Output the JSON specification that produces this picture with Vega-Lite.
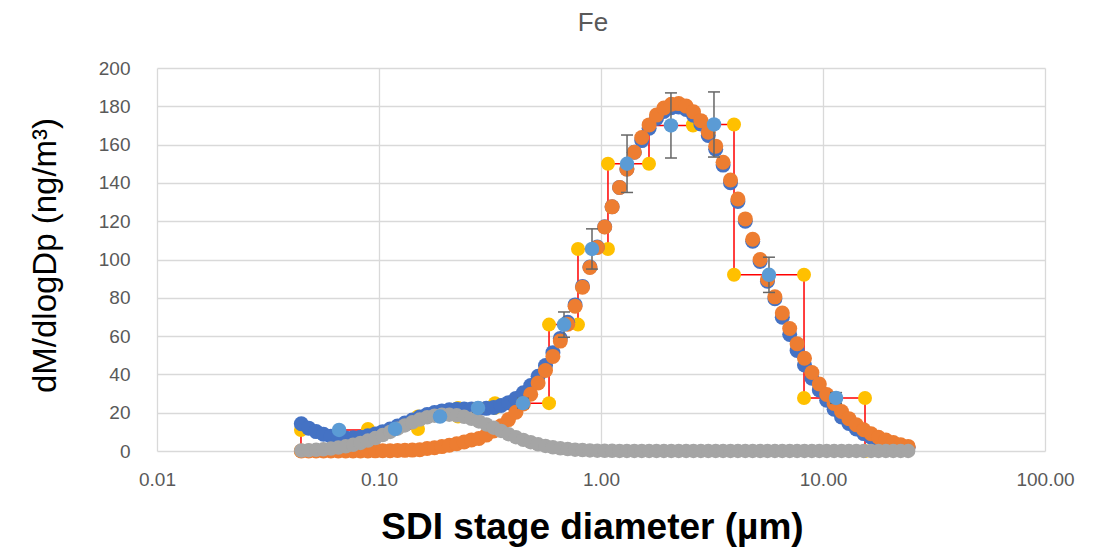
{
  "$schema": "https://vega.github.io/schema/vega-lite/v6.json",
  "width": 888,
  "height": 383,
  "autosize": {"type": "none"},
  "padding": {"left": 157, "top": 68, "right": 54, "bottom": 98},
  "background": "white",
  "title": {"text": "Fe", "font": "Liberation Sans", "fontSize": 26, "fontWeight": "normal", "color": "#595959", "baseline": "bottom", "anchor": "middle", "frame": "group", "offset": -3, "dx": -8},
  "config": {
    "view": {"stroke": null},
    "axis": {"ticks": false, "tickSize": 0, "domain": false, "gridColor": "#D9D9D9", "gridWidth": 1.3, "labelFont": "Liberation Sans", "labelFontSize": 19, "labelColor": "#595959", "titleColor": "#000000", "titleFont": "Liberation Sans", "labelFlush": false, "labelOverlap": false}
  },
  "datasets": {
    "fit": [
      {"dp": 0.04467, "tot": 14.26, "crs": 0, "fin": 0.26},
      {"dp": 0.04823, "tot": 11.94, "crs": 0, "fin": 0.40},
      {"dp": 0.05208, "tot": 10.12, "crs": 0, "fin": 0.61},
      {"dp": 0.05623, "tot": 8.72, "crs": 0, "fin": 0.88},
      {"dp": 0.06072, "tot": 7.72, "crs": 0, "fin": 1.26},
      {"dp": 0.06556, "tot": 7.10, "crs": 0, "fin": 1.77},
      {"dp": 0.07079, "tot": 6.82, "crs": 0.01, "fin": 2.42},
      {"dp": 0.07644, "tot": 6.87, "crs": 0.02, "fin": 3.23},
      {"dp": 0.08254, "tot": 7.24, "crs": 0.03, "fin": 4.23},
      {"dp": 0.08913, "tot": 7.93, "crs": 0.05, "fin": 5.42},
      {"dp": 0.09624, "tot": 8.89, "crs": 0.08, "fin": 6.78},
      {"dp": 0.1039, "tot": 10.09, "crs": 0.12, "fin": 8.30},
      {"dp": 0.1122, "tot": 11.49, "crs": 0.17, "fin": 9.94},
      {"dp": 0.1212, "tot": 13.02, "crs": 0.24, "fin": 11.65},
      {"dp": 0.1308, "tot": 14.63, "crs": 0.34, "fin": 13.35},
      {"dp": 0.1413, "tot": 16.20, "crs": 0.47, "fin": 14.96},
      {"dp": 0.1526, "tot": 17.70, "crs": 0.66, "fin": 16.40},
      {"dp": 0.1647, "tot": 19.00, "crs": 1.3, "fin": 17.58},
      {"dp": 0.1778, "tot": 20.10, "crs": 1.7, "fin": 18.44},
      {"dp": 0.1920, "tot": 20.93, "crs": 2.3, "fin": 18.91},
      {"dp": 0.2073, "tot": 21.49, "crs": 3.0, "fin": 18.97},
      {"dp": 0.2239, "tot": 21.81, "crs": 3.8, "fin": 18.62},
      {"dp": 0.2418, "tot": 21.95, "crs": 4.7, "fin": 17.87},
      {"dp": 0.2610, "tot": 21.99, "crs": 5.8, "fin": 16.78},
      {"dp": 0.2818, "tot": 22.05, "crs": 6.51, "fin": 15.41},
      {"dp": 0.3043, "tot": 22.26, "crs": 8.31, "fin": 13.84},
      {"dp": 0.3286, "tot": 22.75, "crs": 10.5, "fin": 12.16},
      {"dp": 0.3548, "tot": 23.73, "crs": 13.2, "fin": 10.45},
      {"dp": 0.3831, "tot": 25.25, "crs": 16.4, "fin": 8.79},
      {"dp": 0.4137, "tot": 27.47, "crs": 20.2, "fin": 7.22},
      {"dp": 0.4467, "tot": 30.45, "crs": 24.6, "fin": 5.81},
      {"dp": 0.4823, "tot": 34.17, "crs": 29.6, "fin": 4.57},
      {"dp": 0.5208, "tot": 39.01, "crs": 35.5, "fin": 3.51},
      {"dp": 0.5623, "tot": 44.64, "crs": 42.0, "fin": 2.64},
      {"dp": 0.6072, "tot": 51.35, "crs": 49.4, "fin": 1.95},
      {"dp": 0.6556, "tot": 58.8, "crs": 57.4, "fin": 1.40},
      {"dp": 0.7079, "tot": 67.19, "crs": 66.2, "fin": 0.99},
      {"dp": 0.7644, "tot": 76.28, "crs": 75.6, "fin": 0.68},
      {"dp": 0.8254, "tot": 85.96, "crs": 85.5, "fin": 0.46},
      {"dp": 0.8913, "tot": 96.1, "crs": 95.8, "fin": 0.30},
      {"dp": 0.9624, "tot": 106.49, "crs": 106.3, "fin": 0.19},
      {"dp": 1.039, "tot": 117.12, "crs": 117.0, "fin": 0.12},
      {"dp": 1.122, "tot": 127.58, "crs": 127.5, "fin": 0.08},
      {"dp": 1.212, "tot": 137.65, "crs": 137.6, "fin": 0.05},
      {"dp": 1.308, "tot": 147.23, "crs": 147.2, "fin": 0.03},
      {"dp": 1.413, "tot": 156.02, "crs": 156.0, "fin": 0.02},
      {"dp": 1.526, "tot": 162.1, "crs": 163.7, "fin": 0.01},
      {"dp": 1.647, "tot": 168.6, "crs": 170.3, "fin": 0},
      {"dp": 1.778, "tot": 173.6, "crs": 175.4, "fin": 0},
      {"dp": 1.920, "tot": 177.3, "crs": 179.1, "fin": 0},
      {"dp": 2.073, "tot": 179.3, "crs": 181.1, "fin": 0},
      {"dp": 2.239, "tot": 179.6, "crs": 181.4, "fin": 0},
      {"dp": 2.418, "tot": 178.3, "crs": 180.1, "fin": 0},
      {"dp": 2.610, "tot": 175.3, "crs": 177.1, "fin": 0},
      {"dp": 2.818, "tot": 170.8, "crs": 172.5, "fin": 0},
      {"dp": 3.043, "tot": 164.8, "crs": 166.5, "fin": 0},
      {"dp": 3.286, "tot": 157.6, "crs": 159.2, "fin": 0},
      {"dp": 3.548, "tot": 149.3, "crs": 150.8, "fin": 0},
      {"dp": 3.831, "tot": 140.1, "crs": 141.5, "fin": 0},
      {"dp": 4.137, "tot": 130.3, "crs": 131.6, "fin": 0},
      {"dp": 4.467, "tot": 120.0, "crs": 121.2, "fin": 0},
      {"dp": 4.823, "tot": 109.5, "crs": 110.6, "fin": 0},
      {"dp": 5.208, "tot": 99.0, "crs": 100.0, "fin": 0},
      {"dp": 5.623, "tot": 88.7, "crs": 89.6, "fin": 0},
      {"dp": 6.072, "tot": 79.5, "crs": 80.5, "fin": 0},
      {"dp": 6.556, "tot": 69.9, "crs": 72, "fin": 0},
      {"dp": 7.079, "tot": 60.9, "crs": 64, "fin": 0},
      {"dp": 7.644, "tot": 52.5, "crs": 56, "fin": 0},
      {"dp": 8.254, "tot": 44.9, "crs": 48.4, "fin": 0},
      {"dp": 8.913, "tot": 38.0, "crs": 41, "fin": 0},
      {"dp": 9.624, "tot": 31.9, "crs": 35, "fin": 0},
      {"dp": 10.39, "tot": 26.5, "crs": 29.5, "fin": 0},
      {"dp": 11.22, "tot": 21.8, "crs": 24.8, "fin": 0},
      {"dp": 12.12, "tot": 17.8, "crs": 20.6, "fin": 0},
      {"dp": 13.08, "tot": 14.4, "crs": 16.9, "fin": 0},
      {"dp": 14.13, "tot": 11.5, "crs": 13.7, "fin": 0},
      {"dp": 15.26, "tot": 9.1, "crs": 11.1, "fin": 0},
      {"dp": 16.47, "tot": 7.2, "crs": 9.0, "fin": 0},
      {"dp": 17.78, "tot": 5.6, "crs": 7.2, "fin": 0},
      {"dp": 19.20, "tot": 4.3, "crs": 5.7, "fin": 0},
      {"dp": 20.73, "tot": 3.3, "crs": 4.4, "fin": 0},
      {"dp": 22.39, "tot": 2.5, "crs": 3.3, "fin": 0},
      {"dp": 24.18, "tot": 1.9, "crs": 2.4, "fin": 0}
    ],
    "steps": [
      {"o": 0, "dp": 0.04452, "v": 0},
      {"o": 1, "dp": 0.04452, "v": 11},
      {"o": 2, "dp": 0.08923, "v": 11},
      {"o": 3, "dp": 0.08923, "v": 11.5},
      {"o": 4, "dp": 0.1499, "v": 11.5},
      {"o": 5, "dp": 0.1499, "v": 18},
      {"o": 6, "dp": 0.2270, "v": 18},
      {"o": 7, "dp": 0.2270, "v": 22.5},
      {"o": 8, "dp": 0.3331, "v": 22.5},
      {"o": 9, "dp": 0.3331, "v": 25},
      {"o": 10, "dp": 0.5833, "v": 25},
      {"o": 11, "dp": 0.5833, "v": 66},
      {"o": 12, "dp": 0.7877, "v": 66},
      {"o": 13, "dp": 0.7877, "v": 105.5},
      {"o": 14, "dp": 1.075, "v": 105.5},
      {"o": 15, "dp": 1.075, "v": 150},
      {"o": 16, "dp": 1.645, "v": 150},
      {"o": 17, "dp": 1.645, "v": 170},
      {"o": 18, "dp": 2.597, "v": 170},
      {"o": 19, "dp": 2.597, "v": 170.5},
      {"o": 20, "dp": 3.973, "v": 170.5},
      {"o": 21, "dp": 3.973, "v": 92},
      {"o": 22, "dp": 8.213, "v": 92},
      {"o": 23, "dp": 8.213, "v": 27.7},
      {"o": 24, "dp": 15.46, "v": 27.7},
      {"o": 25, "dp": 15.46, "v": 0}
    ],
    "stages": [
      {"dp": 0.0661, "v": 11, "lo": 9.9, "hi": 12.1},
      {"dp": 0.1181, "v": 11.5, "lo": 10.35, "hi": 12.65},
      {"dp": 0.1883, "v": 18, "lo": 16.2, "hi": 19.8},
      {"dp": 0.2792, "v": 22.5, "lo": 20.25, "hi": 24.75},
      {"dp": 0.4453, "v": 25, "lo": 22.5, "hi": 27.5},
      {"dp": 0.6814, "v": 66, "lo": 59.4, "hi": 72.6},
      {"dp": 0.9109, "v": 105.5, "lo": 95, "hi": 116},
      {"dp": 1.310, "v": 150, "lo": 135, "hi": 165},
      {"dp": 2.066, "v": 170, "lo": 153, "hi": 187},
      {"dp": 3.228, "v": 170.5, "lo": 153.5, "hi": 187.5},
      {"dp": 5.71, "v": 92, "lo": 82.8, "hi": 101.2},
      {"dp": 11.45, "v": 27.7, "lo": 24.9, "hi": 30.5}
    ]
  },
  "encoding": {
    "x": {"field": "dp", "type": "quantitative", "scale": {"type": "log", "domain": [0.01, 100]},
      "title": "SDI stage diameter (µm)",
      "axis": {"values": [0.01, 0.1, 1, 10, 100], "format": ".2f", "labelPadding": 19, "titleFontSize": 37, "titleFontWeight": "bold", "titleX": 435, "titleY": 76, "titleBaseline": "middle", "titleAlign": "center"}},
    "y": {"field": "v", "type": "quantitative", "scale": {"domain": [0, 200]},
      "title": "dM/dlogDp (ng/m³)",
      "axis": {"values": [0, 20, 40, 60, 80, 100, 120, 140, 160, 180, 200], "format": "d", "labelPadding": 27, "titleFontSize": 33, "titleFontWeight": "normal", "titleX": -112, "titleY": 187, "titleAngle": -90, "titleBaseline": "middle", "titleAlign": "center"}}
  },
  "layer": [
    {"data": {"name": "steps"}, "mark": {"type": "line", "color": "#FF0000", "strokeWidth": 1.5}, "encoding": {"order": {"field": "o", "type": "quantitative"}}},
    {"data": {"name": "steps"}, "mark": {"type": "point", "shape": "circle", "filled": true, "opacity": 1, "size": 196, "color": "#FFC000", "strokeWidth": 0}},
    {"data": {"name": "fit"}, "transform": [{"fold": ["tot"], "as": ["s", "v"]}], "mark": {"type": "point", "shape": "circle", "filled": true, "opacity": 1, "size": 225, "color": "#4472C4", "strokeWidth": 0}},
    {"data": {"name": "fit"}, "transform": [{"fold": ["crs"], "as": ["s", "v"]}], "mark": {"type": "point", "shape": "circle", "filled": true, "opacity": 1, "size": 225, "color": "#ED7D31", "strokeWidth": 0}},
    {"data": {"name": "fit"}, "transform": [{"fold": ["fin"], "as": ["s", "v"]}], "mark": {"type": "point", "shape": "circle", "filled": true, "opacity": 1, "size": 210, "color": "#A5A5A5", "strokeWidth": 0}},
    {"data": {"name": "stages"}, "mark": {"type": "rule", "color": "#666666", "strokeWidth": 1.5},
      "encoding": {"y": {"field": "lo", "type": "quantitative", "title": "dM/dlogDp (ng/m³)"}, "y2": {"field": "hi"}}},
    {"data": {"name": "stages"}, "mark": {"type": "tick", "orient": "horizontal", "size": 12, "thickness": 1.5, "color": "#666666", "opacity": 1},
      "encoding": {"y": {"field": "lo", "type": "quantitative", "title": "dM/dlogDp (ng/m³)"}}},
    {"data": {"name": "stages"}, "mark": {"type": "tick", "orient": "horizontal", "size": 12, "thickness": 1.5, "color": "#666666", "opacity": 1},
      "encoding": {"y": {"field": "hi", "type": "quantitative", "title": "dM/dlogDp (ng/m³)"}}},
    {"data": {"name": "stages"}, "mark": {"type": "point", "shape": "circle", "filled": true, "opacity": 1, "size": 210, "color": "#5B9BD5", "strokeWidth": 0}}
  ]
}
